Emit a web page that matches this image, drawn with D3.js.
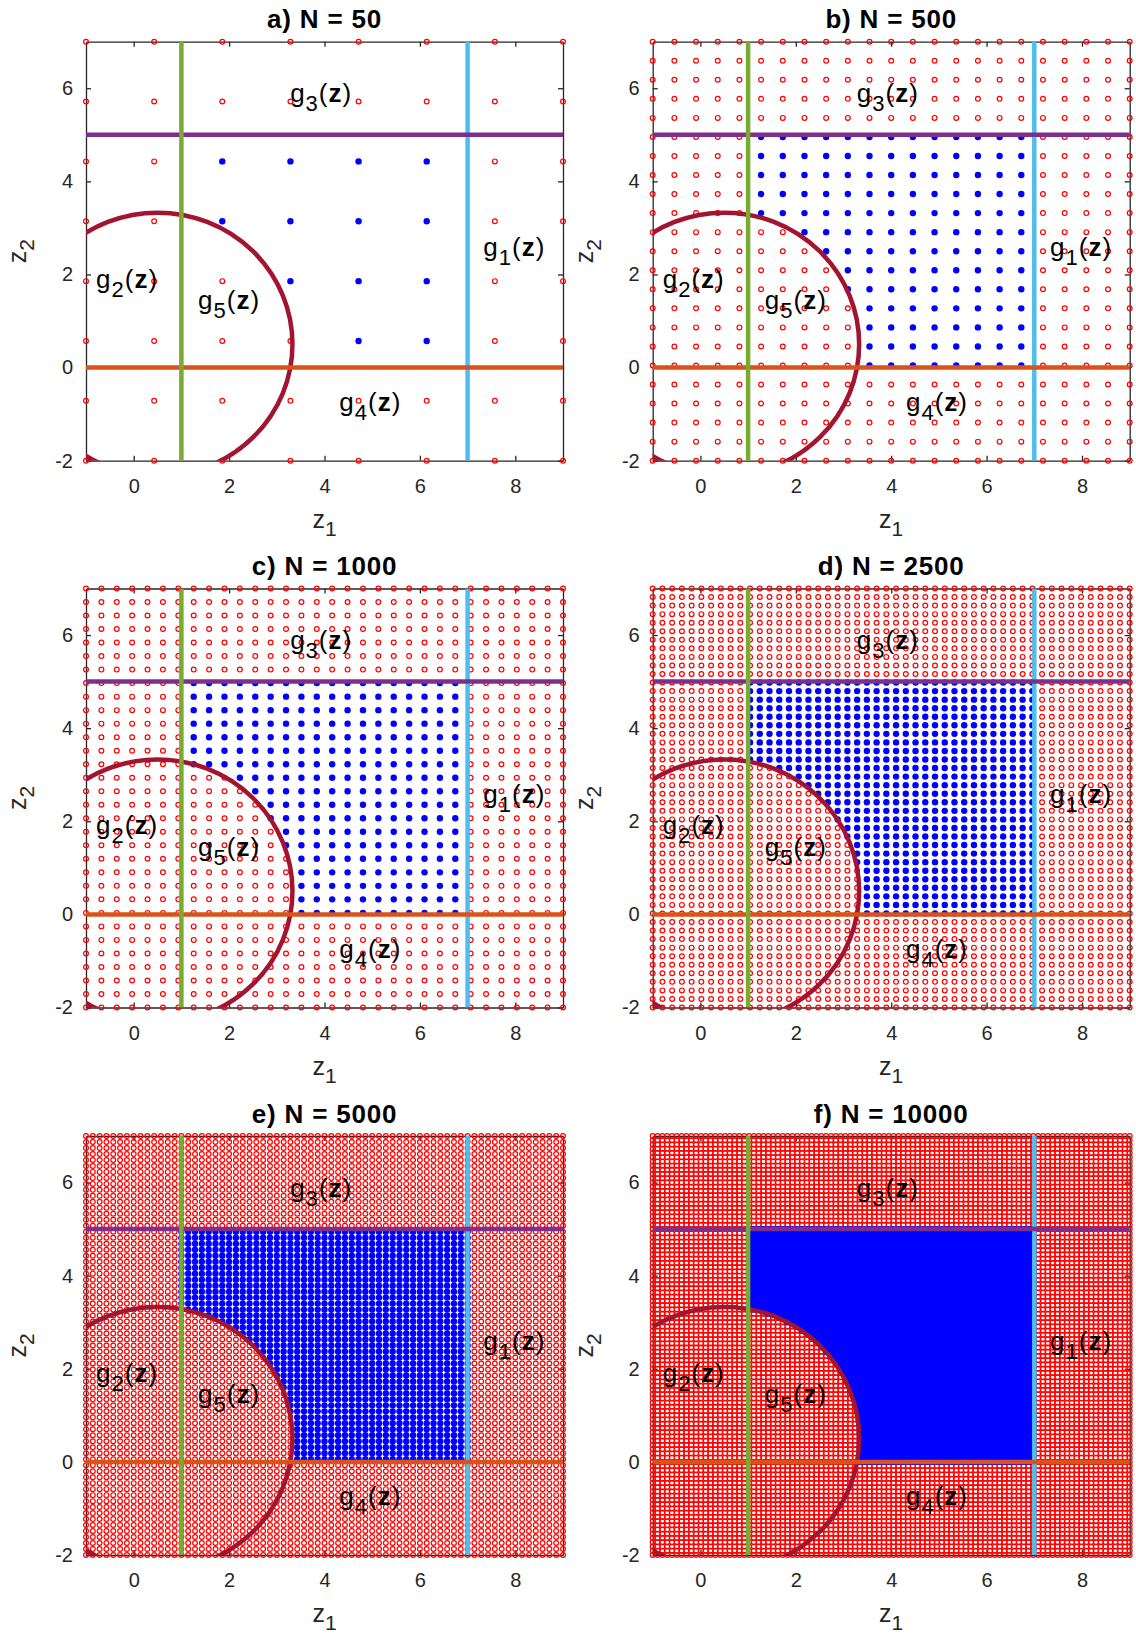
<!DOCTYPE html>
<html>
<head>
<meta charset="utf-8">
<script src="https://cdn.jsdelivr.net/npm/d3@7"></script>
<style>
  body { margin: 0; background: #fff; }
  svg { display: block; }
</style>
</head>
<body>
<script>
// ---- Data -------------------------------------------------------------
// Panel letters and the sample size written in each title
const panelLetters = ["a", "b", "c", "d", "e", "f"];
const sampleCounts = [50, 500, 1000, 2500, 5000, 10000];
// Points per axis of the square sampling grid in each panel
const pointsPerAxis = [8, 23, 32, 50, 71, 100];

// Design space
const z1Domain = [-1, 9];
const z2Domain = [-2, 7];
const z1Ticks = [0, 2, 4, 6, 8];
const z2Ticks = [-2, 0, 2, 4, 6];

// Constraint boundaries
const g1Limit = 7;            // g1: z1 <= 7
const g2Center = [0.5, 0.5];  // g2: outside circle
const g2RadiusSq = 8;
const g3Limit = 5;            // g3: z2 <= 5
const g4Limit = 0;            // g4: z2 >= 0
const g5Limit = 1;            // g5: z1 >= 1

// Constraint label names and their anchor points (z1, z2)
const labelNames = ["1", "2", "3", "4", "5"];
const labelAnchors = [[7.33, 2.40], [-0.79, 1.72], [3.28, 5.70], [4.31, -0.93], [1.35, 1.26]];

// ---- Layout -----------------------------------------------------------
const W = 1136, H = 1643;
const plotW = 477, plotH = 419;
const colX = [86, 652.7];
const rowY = [41.7, 588.5, 1136];
const FONT = "'Liberation Sans', Arial, Helvetica, sans-serif";
const AXIS_COLOR = "#262626";
const colors = {
  g1: "#4DBEEE", g2: "#A2142F", g3: "#7E2F8E", g4: "#D95319", g5: "#77AC30"
};

const svg = d3.select("body").append("svg")
  .attr("width", W).attr("height", H)
  .attr("font-family", FONT);

const x = d3.scaleLinear().domain(z1Domain).range([0, plotW]);
const y = d3.scaleLinear().domain(z2Domain).range([plotH, 0]);

const eps = 1e-9;
function feasible(z1, z2) {
  const dx = z1 - g2Center[0], dy = z2 - g2Center[1];
  return z1 <= g1Limit + eps &&
         dx * dx + dy * dy >= g2RadiusSq - eps &&
         z2 <= g3Limit + eps &&
         z2 >= g4Limit - eps &&
         z1 >= g5Limit - eps;
}

function linspace(a, b, n) {
  return d3.range(n).map(i => a + (b - a) * i / (n - 1));
}

svg.append("defs").append("clipPath").attr("id", "plot-clip")
  .append("rect").attr("x", 0).attr("y", 0).attr("width", plotW).attr("height", plotH);

const tickText = d => String(d);

panelLetters.forEach((letter, idx) => {
  const col = idx % 2, row = Math.floor(idx / 2);
  const g = svg.append("g").attr("transform", `translate(${colX[col]},${rowY[row]})`);

  // Axes box with inward ticks on all four sides
  const styleAxis = sel => {
    sel.selectAll("path.domain").attr("stroke", AXIS_COLOR).attr("stroke-width", 1.3);
    sel.selectAll(".tick line").attr("stroke", AXIS_COLOR).attr("stroke-width", 1.3);
    sel.selectAll(".tick text").attr("fill", AXIS_COLOR).attr("font-size", 20).attr("font-family", FONT);
  };
  g.append("g").attr("transform", `translate(0,${plotH})`)
    .call(d3.axisBottom(x).tickValues(z1Ticks).tickSizeInner(-5).tickSizeOuter(0).tickPadding(18).tickFormat(tickText))
    .call(styleAxis);
  g.append("g")
    .call(d3.axisTop(x).tickValues(z1Ticks).tickSizeInner(-5).tickSizeOuter(0).tickFormat(""))
    .call(styleAxis);
  g.append("g")
    .call(d3.axisLeft(y).tickValues(z2Ticks).tickSizeInner(-5).tickSizeOuter(0).tickPadding(13).tickFormat(tickText))
    .call(styleAxis);
  g.append("g").attr("transform", `translate(${plotW},0)`)
    .call(d3.axisRight(y).tickValues(z2Ticks).tickSizeInner(-5).tickSizeOuter(0).tickFormat(""))
    .call(styleAxis);

  // Sampling grid
  const n = pointsPerAxis[idx];
  const z1s = linspace(z1Domain[0], z1Domain[1], n);
  const z2s = linspace(z2Domain[0], z2Domain[1], n);
  const pts = [];
  z1s.forEach(a => z2s.forEach(b => pts.push({ z1: a, z2: b, ok: feasible(a, b) })));

  g.append("g").selectAll("circle")
    .data(pts.filter(p => !p.ok)).join("circle")
    .attr("cx", p => x(p.z1)).attr("cy", p => y(p.z2))
    .attr("r", 2.4).attr("fill", "none").attr("stroke", "#FF0000").attr("stroke-width", 1.2);

  g.append("g").selectAll("circle")
    .data(pts.filter(p => p.ok)).join("circle")
    .attr("cx", p => x(p.z1)).attr("cy", p => y(p.z2))
    .attr("r", 3.2).attr("fill", "#0000FF");

  // Constraint boundaries
  const cg = g.append("g").attr("clip-path", "url(#plot-clip)").attr("fill", "none").attr("stroke-width", 4.5);
  cg.append("line").attr("x1", x(g1Limit)).attr("x2", x(g1Limit)).attr("y1", y(z2Domain[0])).attr("y2", y(z2Domain[1]))
    .attr("stroke", colors.g1);
  const r = Math.sqrt(g2RadiusSq);
  cg.append("ellipse")
    .attr("cx", x(g2Center[0])).attr("cy", y(g2Center[1]))
    .attr("rx", x(g2Center[0] + r) - x(g2Center[0]))
    .attr("ry", y(g2Center[1]) - y(g2Center[1] + r))
    .attr("stroke", colors.g2);
  cg.append("line").attr("x1", x(z1Domain[0])).attr("x2", x(z1Domain[1])).attr("y1", y(g3Limit)).attr("y2", y(g3Limit))
    .attr("stroke", colors.g3);
  cg.append("line").attr("x1", x(z1Domain[0])).attr("x2", x(z1Domain[1])).attr("y1", y(g4Limit)).attr("y2", y(g4Limit))
    .attr("stroke", colors.g4);
  cg.append("line").attr("x1", x(g5Limit)).attr("x2", x(g5Limit)).attr("y1", y(z2Domain[0])).attr("y2", y(z2Domain[1]))
    .attr("stroke", colors.g5);

  // Constraint labels g_i(z)
  labelNames.forEach((nm, k) => {
    const t = g.append("text")
      .attr("x", x(labelAnchors[k][0])).attr("y", y(labelAnchors[k][1]))
      .attr("font-size", 26).attr("letter-spacing", 1).attr("fill", "#000");
    t.append("tspan").text("g");
    t.append("tspan").attr("dy", 9).attr("font-size", 22).text(nm);
    t.append("tspan").attr("dy", -9).text("(");
    t.append("tspan").attr("font-weight", "bold").text("z");
    t.append("tspan").text(")");
  });

  // Title
  g.append("text")
    .attr("x", plotW / 2).attr("y", -13.5)
    .attr("text-anchor", "middle").attr("font-size", 26).attr("letter-spacing", 0.8)
    .attr("font-weight", "bold")
    .text(`${letter}) N = ${sampleCounts[idx]}`);

  // Axis labels
  const xl = g.append("text")
    .attr("x", plotW / 2).attr("y", plotH + 67)
    .attr("text-anchor", "middle").attr("font-size", 25).attr("fill", AXIS_COLOR);
  xl.append("tspan").text("z");
  xl.append("tspan").attr("dy", 8).attr("font-size", 21).text("1");

  const yl = g.append("text")
    .attr("transform", `translate(-60,${plotH / 2}) rotate(-90)`)
    .attr("text-anchor", "middle").attr("font-size", 25).attr("fill", AXIS_COLOR);
  yl.append("tspan").text("z");
  yl.append("tspan").attr("dy", 8).attr("font-size", 21).text("2");
});
</script>
</body>
</html>
